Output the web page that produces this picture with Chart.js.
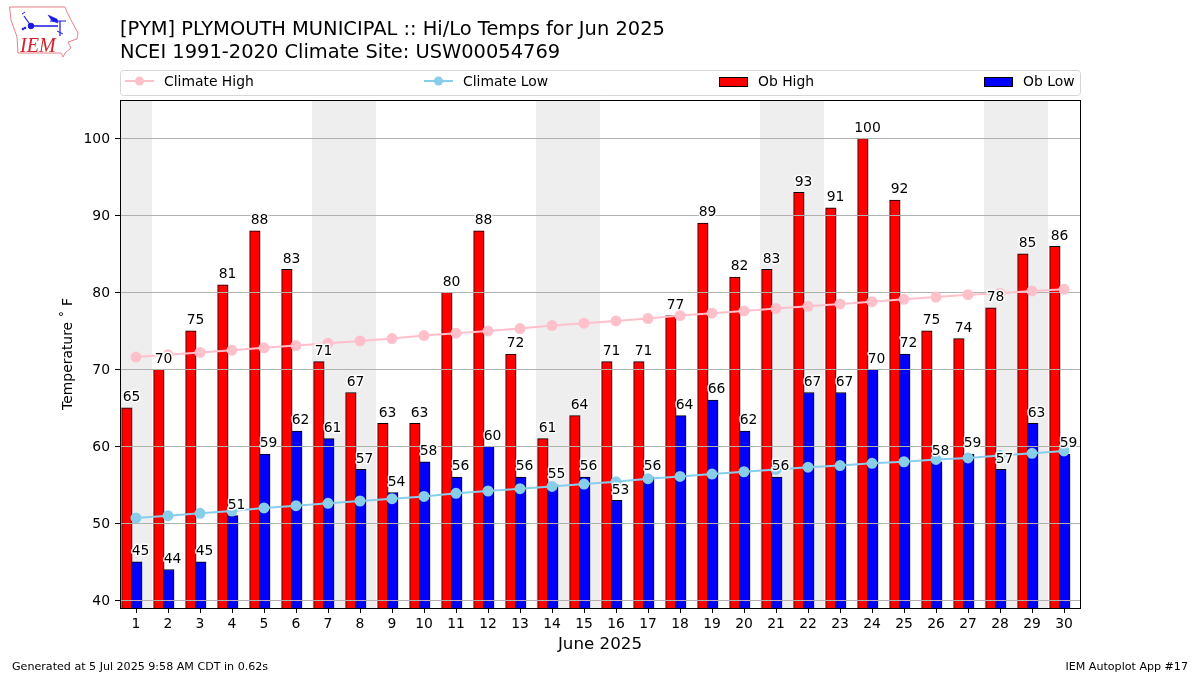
<!DOCTYPE html>
<html>
<head>
<meta charset="utf-8">
<title>PYM Hi/Lo Temps</title>
<script src="https://cdn.jsdelivr.net/npm/chart.js@4"></script>
<style>
html, body { margin: 0; padding: 0; background: #fff; }
#wrap { position: relative; width: 1200px; height: 675px; overflow: hidden; font-family: "DejaVu Sans", sans-serif; color: #000; }
canvas { position: absolute; left: 0; top: 0; }
.txt { position: absolute; white-space: nowrap; }
#title { left: 120px; top: 18px; font-size: 19.45px; line-height: 22.5px; }
#genAt { left: 12px; top: 660px; font-size: 11.1px; }
#app { right: 12px; top: 660px; font-size: 11.1px; }
#logo { position: absolute; left: 0; top: 0; }
</style>
</head>
<body>
<div id="wrap">
  <canvas id="chart" width="1200" height="675"></canvas>
  <svg id="logo" width="90" height="65" viewBox="0 0 90 65">
    <polygon points="9.5,7 65,7 67,12 72,22 78,33 77,39 68,42 71,48 65,53 63,57 61,53 18,53 17,37 11,20" fill="#fff" stroke="#e88088" stroke-width="1"/>
    <g stroke="#1a1ae0" fill="#1a1ae0">
      <circle cx="31" cy="26" r="2.8"/>
      <line x1="31" y1="26" x2="58" y2="26" stroke-width="1.5"/>
      <line x1="31" y1="26" x2="24" y2="16" stroke-width="1.2"/>
      <line x1="22" y1="14" x2="25" y2="12" stroke-width="1"/>
      <polygon points="48,15 57,19 58,23 52,21" stroke-width="0.5"/>
      <line x1="50" y1="21" x2="66" y2="21" stroke-width="1"/>
      <line x1="60" y1="21" x2="60" y2="36" stroke-width="1.2"/>
      <line x1="57" y1="31" x2="63" y2="34" stroke-width="1"/>
      <circle cx="25" cy="28" r="0.9"/>
      <circle cx="23" cy="29" r="0.9"/>
    </g>
    <text x="20" y="52" font-family="Liberation Serif" font-style="italic" font-size="20" fill="#d8202c">IEM</text>
  </svg>
  <div id="title" class="txt">[PYM] PLYMOUTH MUNICIPAL :: Hi/Lo Temps for Jun 2025<br>NCEI 1991-2020 Climate Site: USW00054769</div>
  <div id="genAt" class="txt">Generated at 5 Jul 2025 9:58 AM CDT in 0.62s</div>
  <div id="app" class="txt">IEM Autoplot App #17</div>
</div>
<script>
const days = [1, 2, 3, 4, 5, 6, 7, 8, 9, 10, 11, 12, 13, 14, 15, 16, 17, 18, 19, 20, 21, 22, 23, 24, 25, 26, 27, 28, 29, 30];
const obHigh = [65, 70, 75, 81, 88, 83, 71, 67, 63, 63, 80, 88, 72, 61, 64, 71, 71, 77, 89, 82, 83, 93, 91, 100, 92, 75, 74, 78, 85, 86];
const obLow = [45, 44, 45, 51, 59, 62, 61, 57, 54, 58, 56, 60, 56, 55, 56, 53, 56, 64, 66, 62, 56, 67, 67, 70, 72, 58, 59, 57, 63, 59];
const climateHigh = [71.6, 71.9, 72.2, 72.5, 72.8, 73.1, 73.4, 73.7, 74.0, 74.4, 74.7, 75.0, 75.3, 75.7, 76.0, 76.3, 76.6, 77.0, 77.3, 77.6, 77.9, 78.2, 78.5, 78.8, 79.1, 79.4, 79.7, 79.9, 80.2, 80.4];
const climateLow = [50.7, 51.0, 51.3, 51.6, 52.0, 52.3, 52.6, 52.9, 53.2, 53.5, 53.9, 54.2, 54.5, 54.8, 55.1, 55.4, 55.8, 56.1, 56.4, 56.7, 57.0, 57.3, 57.5, 57.8, 58.0, 58.3, 58.5, 58.8, 59.1, 59.4];
const weekendDays = [1, 7, 8, 14, 15, 21, 22, 28, 29];
const yTickStep = 10;

const FONT = '"DejaVu Sans", sans-serif';
const LABEL_SIZE = 13.9;
const HIGH_SHIFT = -0.285;
const LOW_SHIFT = 0.025;
const LABEL_SHIFT = 0.14;
const LOW_BAR_INDEX = 3;

function xy(values, shift) {
    return days.map((d, i) => ({ x: d + shift, y: values[i] }));
}

// gray weekend bands behind everything
const bandsPlugin = {
    id: 'bands',
    beforeDatasetsDraw(chart) {
        const { ctx, chartArea, scales } = chart;
        ctx.save();
        ctx.fillStyle = '#eeeeee';
        weekendDays.forEach(d => {
            const x0 = scales.x.getPixelForValue(d - 0.5);
            const x1 = scales.x.getPixelForValue(d + 0.5);
            ctx.fillRect(x0, chartArea.top, x1 - x0, chartArea.bottom - chartArea.top);
        });
        ctx.restore();
    }
};

// gridlines go over the bars but under the climate lines
const gridPlugin = {
    id: 'midGrid',
    afterDatasetDraw(chart, args) {
        if (args.index !== LOW_BAR_INDEX) return;
        const { ctx, chartArea, scales } = chart;
        ctx.save();
        ctx.strokeStyle = '#b0b0b0';
        ctx.lineWidth = 1;
        scales.y.ticks.forEach(t => {
            const y = Math.round(scales.y.getPixelForValue(t.value)) + 0.5;
            ctx.beginPath();
            ctx.moveTo(chartArea.left, y);
            ctx.lineTo(chartArea.right, y);
            ctx.stroke();
        });
        ctx.restore();
    }
};

// bar value labels with a white halo, centered a little to the side of the tick
const valueLabelPlugin = {
    id: 'valueLabels',
    afterDraw(chart) {
        const { ctx, scales } = chart;
        ctx.save();
        ctx.font = LABEL_SIZE + 'px ' + FONT;
        ctx.textAlign = 'center';
        ctx.textBaseline = 'alphabetic';
        ctx.lineJoin = 'round';
        [[obHigh, -LABEL_SHIFT], [obLow, LABEL_SHIFT]].forEach(([values, shift]) => {
            values.forEach((v, i) => {
                const x = scales.x.getPixelForValue(days[i] + shift);
                const y = scales.y.getPixelForValue(v + 1) + 1;
                ctx.strokeStyle = '#fff';
                ctx.lineWidth = 3;
                ctx.strokeText(String(v), x, y);
                ctx.fillStyle = '#000';
                ctx.fillText(String(v), x, y);
            });
        });
        ctx.restore();
    }
};

// top and right spines, then the wide four column legend
const framePlugin = {
    id: 'frame',
    afterDraw(chart) {
        const { ctx, chartArea: a, data } = chart;
        ctx.save();
        ctx.strokeStyle = '#000';
        ctx.lineWidth = 1;
        ctx.strokeRect(a.left + 0.5, a.top + 0.5, a.right - a.left, a.bottom - a.top);

        ctx.strokeStyle = '#d5d5d5';
        ctx.beginPath();
        ctx.roundRect(120.5, 70.5, 960, 25, 3);
        ctx.stroke();

        const handleX = [125, 424, 719, 984];
        ctx.font = LABEL_SIZE + 'px ' + FONT;
        ctx.textBaseline = 'alphabetic';
        data.datasets.forEach((ds, i) => {
            const x = handleX[i];
            if (ds.type === 'line') {
                ctx.strokeStyle = ds.borderColor;
                ctx.lineWidth = 2;
                ctx.beginPath();
                ctx.moveTo(x, 81);
                ctx.lineTo(x + 29, 81);
                ctx.stroke();
                ctx.fillStyle = ds.pointBackgroundColor;
                ctx.beginPath();
                ctx.arc(x + 14.5, 81, ds.pointRadius, 0, Math.PI * 2);
                ctx.fill();
            } else {
                ctx.fillStyle = ds.backgroundColor;
                ctx.fillRect(x, 77, 29, 10);
                ctx.strokeStyle = '#000';
                ctx.lineWidth = 1;
                ctx.strokeRect(x + 0.5, 77.5, 28, 9);
            }
            ctx.fillStyle = '#000';
            ctx.fillText(ds.label, x + 39, 86);
        });
        ctx.restore();
    }
};

new Chart(document.getElementById('chart').getContext('2d'), {
    data: {
        datasets: [
            {
                type: 'line', label: 'Climate High', data: xy(climateHigh, 0), order: 0,
                borderColor: '#ffc0cb', borderWidth: 2, tension: 0,
                pointBackgroundColor: '#ffc0cb', pointBorderColor: '#ffc0cb', pointRadius: 4.5
            },
            {
                type: 'line', label: 'Climate Low', data: xy(climateLow, 0), order: 1,
                borderColor: '#87ceeb', borderWidth: 2, tension: 0,
                pointBackgroundColor: '#87ceeb', pointBorderColor: '#87ceeb', pointRadius: 4.5
            },
            {
                type: 'bar', label: 'Ob High', data: xy(obHigh, HIGH_SHIFT), order: 3, grouped: false,
                backgroundColor: '#ff0000', borderColor: '#000', borderWidth: 1, barThickness: 10.5
            },
            {
                type: 'bar', label: 'Ob Low', data: xy(obLow, LOW_SHIFT), order: 2, grouped: false,
                backgroundColor: '#0000ff', borderColor: '#000', borderWidth: 1, barThickness: 10.5
            }
        ]
    },
    options: {
        responsive: false,
        animation: false,
        devicePixelRatio: 1,
        layout: { padding: { left: 60, top: 100, right: 120, bottom: 20 } },
        plugins: {
            legend: { display: false },
            title: { display: false },
            tooltip: { enabled: false }
        },
        scales: {
            x: {
                type: 'linear',
                offset: false,
                min: 0.5,
                max: 30.5,
                afterFit(scale) { scale.height = 47; },
                afterBuildTicks(scale) { scale.ticks = days.map(d => ({ value: d })); },
                grid: { offset: false, drawOnChartArea: false, tickLength: 5, tickColor: '#000' },
                border: { color: '#000' },
                ticks: {
                    autoSkip: false, maxRotation: 0, color: '#000', padding: 3,
                    font: { family: FONT, size: LABEL_SIZE }
                },
                title: {
                    display: true, text: 'June 2025', color: '#000', padding: 0,
                    font: { family: FONT, size: 16.7 }
                }
            },
            y: {
                min: 39,
                max: 105,
                afterFit(scale) { scale.width = 60; },
                grid: { drawOnChartArea: false, tickLength: 5, tickColor: '#000' },
                border: { color: '#000' },
                ticks: {
                    stepSize: yTickStep, includeBounds: false, color: '#000', padding: 5, labelOffset: 1,
                    font: { family: FONT, size: LABEL_SIZE }
                },
                title: {
                    display: true, text: 'Temperature ˚ F', color: '#000', padding: 0,
                    font: { family: FONT, size: LABEL_SIZE }
                }
            }
        }
    },
    plugins: [bandsPlugin, gridPlugin, valueLabelPlugin, framePlugin]
});
</script>
</body>
</html>
